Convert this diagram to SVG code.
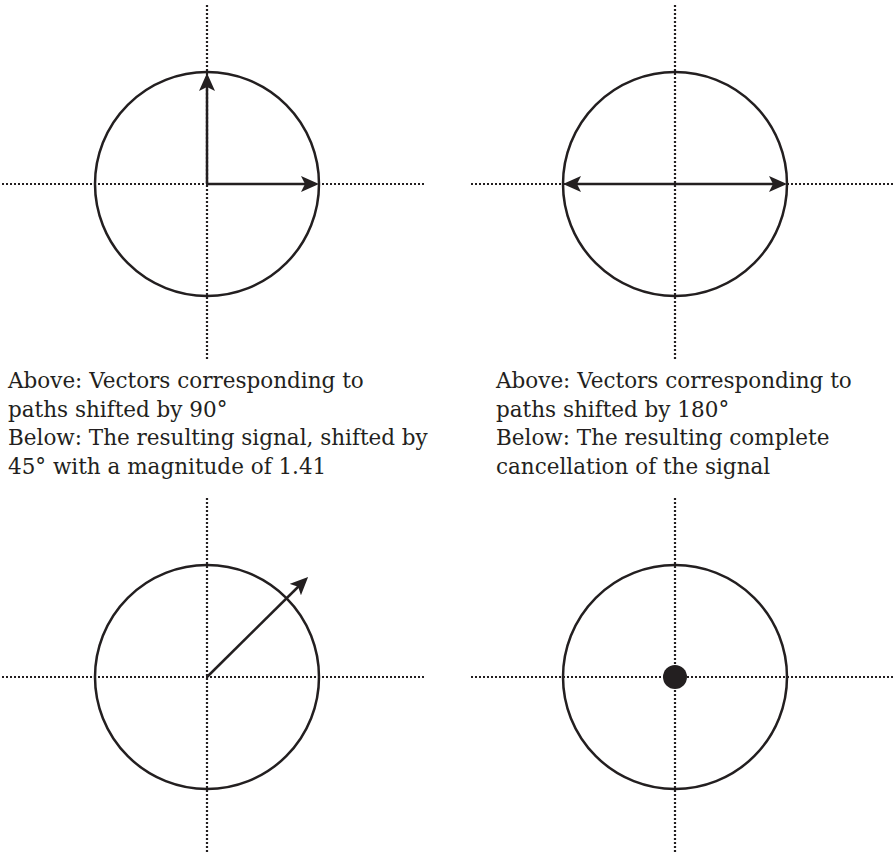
<svg xmlns="http://www.w3.org/2000/svg" width="894" height="854" viewBox="0 0 894 854">
  <style>
    .axis { stroke: #231f20; stroke-width: 2.2; stroke-dasharray: 2 2; fill: none; }
    .ring { stroke: #231f20; stroke-width: 2.5; fill: none; }
    .vec { stroke: #231f20; stroke-width: 2.5; fill: none; }
    .cap { font-family: "DejaVu Serif", "Liberation Serif", serif; font-size: 21.5px; fill: #231f20; }
  </style>
  <defs>
    <marker id="ah" viewBox="0 0 18 16" refX="8" refY="8" markerWidth="18" markerHeight="16" markerUnits="userSpaceOnUse" orient="auto-start-reverse">
      <path d="M0,0 L18,8 L0,16 L4,8 Z" fill="#231f20"/>
    </marker>
  </defs>
  <rect width="894" height="854" fill="#ffffff"/>

  <g id="panel-90">
    <line class="axis" x1="207" y1="5" x2="207" y2="360"/>
    <line class="axis" x1="2" y1="184" x2="425" y2="184"/>
    <circle class="ring" cx="207" cy="184" r="112"/>
  </g>
  <g id="panel-180">
    <line class="axis" x1="675" y1="5" x2="675" y2="360"/>
    <line class="axis" x1="471" y1="184" x2="894" y2="184"/>
    <circle class="ring" cx="675" cy="184" r="112"/>
  </g>
  <g id="panel-45">
    <line class="axis" x1="207" y1="498" x2="207" y2="852"/>
    <line class="axis" x1="2" y1="677" x2="425" y2="677"/>
    <circle class="ring" cx="207" cy="677" r="112"/>
  </g>
  <g id="panel-cancel">
    <line class="axis" x1="675" y1="498" x2="675" y2="852"/>
    <line class="axis" x1="471" y1="677" x2="894" y2="677"/>
    <circle class="ring" cx="675" cy="677" r="112"/>
    <circle cx="675" cy="677" r="12" fill="#231f20"/>
  </g>

  <g id="connectors">
    <line class="vec" x1="207" y1="184" x2="207" y2="83" marker-end="url(#ah)"/>
    <line class="vec" x1="207" y1="184" x2="309" y2="184" marker-end="url(#ah)"/>
    <line class="vec" x1="573" y1="184" x2="777" y2="184" marker-start="url(#ah)" marker-end="url(#ah)"/>
    <line class="vec" x1="207" y1="677" x2="301" y2="584" marker-end="url(#ah)"/>
  </g>

  <g id="caption-left">
    <text class="cap" x="8" y="388">Above: Vectors corresponding to</text>
    <text class="cap" x="8" y="416.5">paths shifted by 90°</text>
    <text class="cap" x="8" y="445">Below: The resulting signal, shifted by</text>
    <text class="cap" x="8" y="473.5">45° with a magnitude of 1.41</text>
  </g>
  <g id="caption-right">
    <text class="cap" x="496" y="388">Above: Vectors corresponding to</text>
    <text class="cap" x="496" y="416.5">paths shifted by 180°</text>
    <text class="cap" x="496" y="445">Below: The resulting complete</text>
    <text class="cap" x="496" y="473.5">cancellation of the signal</text>
  </g>
</svg>
